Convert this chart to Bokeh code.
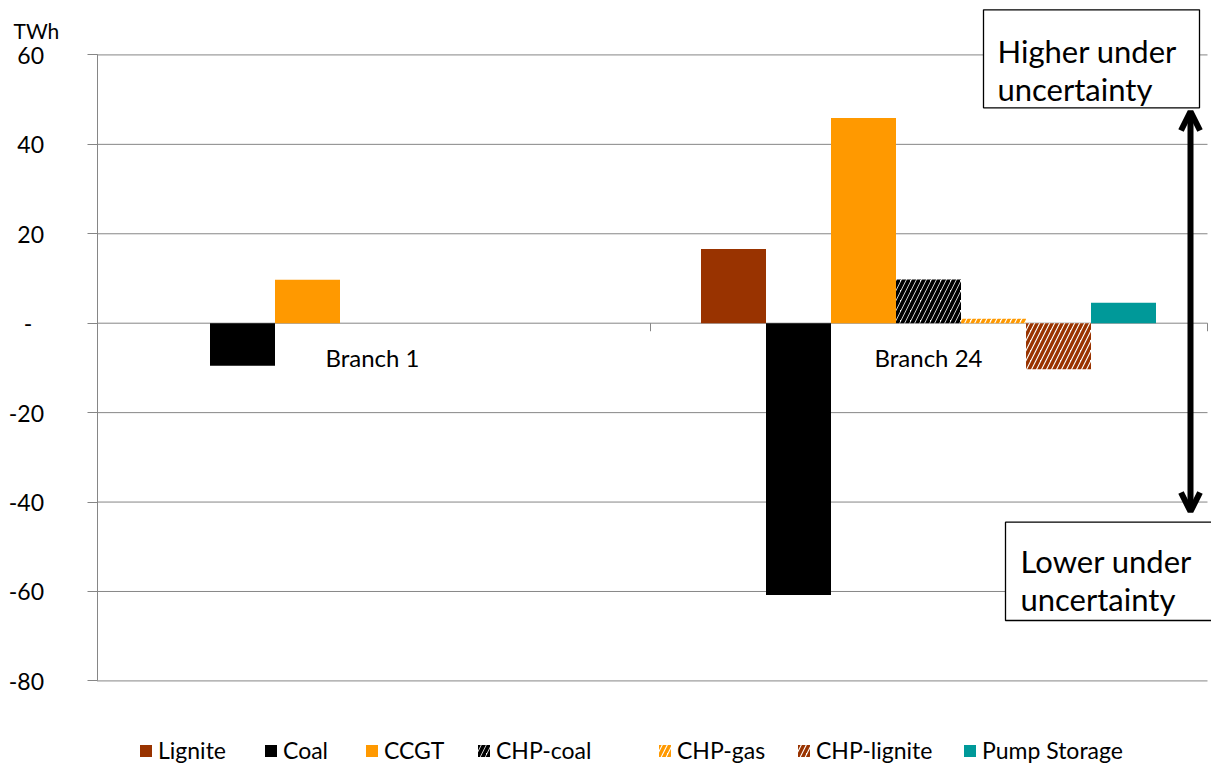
from bokeh.plotting import figure
from bokeh.models import (Range1d, FixedTicker, Legend, LegendItem, Arrow,
                          OpenHead, ColumnDataSource, LinearAxis)
from bokeh.embed import file_html
from bokeh.resources import INLINE
from bokeh.core.properties import value

# ---------------- data ----------------
categories = ["Branch 1", "Branch 24"]
series = ["Lignite", "Coal", "CCGT", "CHP-coal", "CHP-gas", "CHP-lignite", "Pump Storage"]
lignite = [0.0, 16.6]
coal = [-9.5, -60.8]
ccgt = [9.7, 45.9]
chp_coal = [0.0, 9.8]
chp_gas = [0.0, 1.0]
chp_lignite = [0.0, -10.3]
pump_storage = [0.0, 4.6]
y_ticks = [-80, -60, -40, -20, 0, 20, 40, 60]
y_tick_labels = ["-80", "-60", "-40", "-20", "-\u00a0\u00a0", "20", "40", "60"]

values = [lignite, coal, ccgt, chp_coal, chp_gas, chp_lignite, pump_storage]

# ---------------- layout helpers (page pixels -> data) ----------------
X0, XS = 94.0, 556.0          # page x of data x=0, pixels per category unit
Y0, YS = 322.7, 4.4714        # page y of data y=0, pixels per TWh
def dx(px): return (px - X0) / XS
def dy(py): return (Y0 - py) / YS

W, H = 1211, 767
AXIS_PX = 96.5
FONT = "Lato"
GRAY = "#868686"
styles = [
    dict(fill_color="#993300"),
    dict(fill_color="#000000"),
    dict(fill_color="#FF9900"),
    dict(fill_color="white", hatch_pattern="/", hatch_color="#000000", hatch_weight=3.8, hatch_scale=10),
    dict(fill_color="white", hatch_pattern="/", hatch_color="#FF9900", hatch_weight=3.4, hatch_scale=10),
    dict(fill_color="white", hatch_pattern="/", hatch_color="#993300", hatch_weight=3.4, hatch_scale=10),
    dict(fill_color="#009999"),
]
legend_item_px = [138, 263, 364, 476, 657, 796, 962]

p = figure(width=W, height=H, x_range=Range1d(dx(0), dx(W)), y_range=Range1d(dy(H), dy(0)),
           output_backend="svg", toolbar_location=None,
           x_axis_location=None, y_axis_location=None,
           min_border_left=0, min_border_right=0, min_border_top=0, min_border_bottom=0)
p.outline_line_color = None
p.background_fill_color = "white"
p.border_fill_color = "white"
p.xgrid.visible = False
p.ygrid.visible = False

yax = LinearAxis(fixed_location=dx(AXIS_PX), bounds=(min(y_ticks), max(y_ticks)))
yax.ticker = FixedTicker(ticks=y_ticks)
yax.major_label_overrides = dict(zip(y_ticks, y_tick_labels))
yax.axis_line_color = GRAY
yax.major_tick_line_color = GRAY
yax.major_tick_out = 10
yax.major_tick_in = 0
yax.minor_tick_line_color = None
yax.major_label_standoff = 43
yax.major_label_text_font = FONT
yax.major_label_text_font_size = "23px"
yax.major_label_text_color = "black"
p.add_layout(yax, "left")

# horizontal gridlines at the tick values
p.segment(x0=dx(AXIS_PX), x1=dx(1207), y0=y_ticks, y1=y_ticks, line_color=GRAY, line_width=1)
# category ticks on the zero axis
p.segment(x0=[1, dx(1207)], y0=[0, 0], x1=[1, dx(1207)], y1=[-1.8, -1.8],
          line_color=GRAY, line_width=1)

n = len(series)
w = 65 / XS
renderers = []
for i, (name, vals, st) in enumerate(zip(series, values, styles)):
    xs = [c + 0.5 + (i - (n - 1) / 2) * w for c in range(len(categories))]
    src = ColumnDataSource(dict(x=xs, top=vals))
    r = p.vbar(x="x", top="top", bottom=0, width=w, source=src, line_color=None, **st)
    renderers.append(r)

# category labels next to zero line
cat_src = ColumnDataSource(dict(x=[c + 0.5 for c in range(len(categories))],
                                y=[dy(357)] * len(categories), t=categories))
p.text(x="x", y="y", text="t", source=cat_src, text_align="center", text_baseline="middle",
       text_font=value(FONT), text_font_size="24px", text_color="black")

# unit label
p.text(x=[dx(13)], y=[dy(30)], text=["TWh"], text_font=value(FONT), text_font_size="21px",
       text_align="left", text_baseline="alphabetic", text_color="black")

# annotation boxes
p.quad(left=[dx(983), dx(1005)], right=[dx(1199), dx(1230)],
       top=[dy(9.3), dy(521.7)], bottom=[dy(107.3), dy(620)],
       fill_color="white", line_color="black", line_width=1.3)
p.text(x=[dx(997), dx(997), dx(1020), dx(1020)],
       y=[dy(50), dy(88), dy(560), dy(598)],
       text=["Higher under", "uncertainty", "Lower under", "uncertainty"],
       text_font=value(FONT), text_font_size="31px", text_align="left",
       text_baseline="alphabetic", text_color="black")

# double-headed arrow
p.add_layout(Arrow(start=OpenHead(size=19, line_width=6, line_color="black"),
                   end=OpenHead(size=19, line_width=6, line_color="black"),
                   x_start=dx(1190), y_start=dy(511), x_end=dx(1190), y_end=dy(111),
                   line_width=6, line_color="black"))

# legend: one entry per series, placed along the bottom
for s, r, lx in zip(series, renderers, legend_item_px):
    lg = Legend(items=[LegendItem(label=s, renderers=[r])],
                orientation="horizontal", location=(lx, 3), glyph_width=15, glyph_height=15,
                label_standoff=5, padding=0, margin=0, border_line_color=None,
                background_fill_alpha=0, label_text_font=FONT, label_text_font_size="23px",
                label_text_color="black")
    p.add_layout(lg)

open("out.html", "w").write(file_html(p, INLINE))
